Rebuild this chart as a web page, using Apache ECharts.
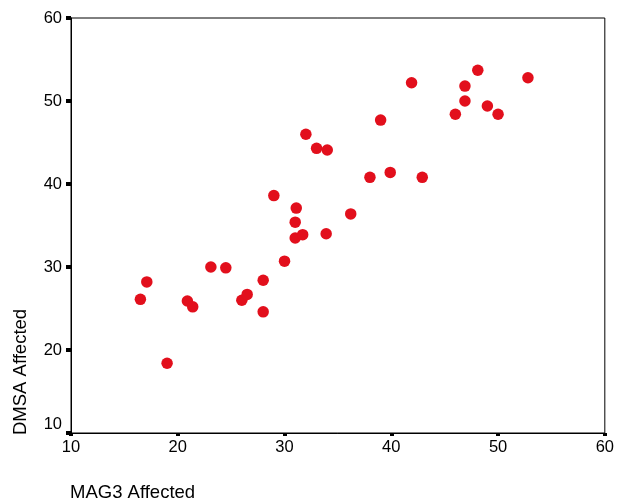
<!DOCTYPE html>
<html>
<head>
<meta charset="utf-8">
<script src="https://cdn.jsdelivr.net/npm/echarts@6/dist/echarts.min.js"></script>
<style>
html,body{margin:0;padding:0;background:#fff;}
#chart{width:617px;height:503px;}
</style>
</head>
<body>
<div id="chart"></div>
<script>
// MAG3 Affected (x) values
var mag3 = [16.5, 17.1, 19.0, 20.9, 21.4, 23.1, 24.5, 26.0, 26.5, 28.0, 28.0, 29.0, 30.0, 31.0, 31.1, 31.0, 31.7, 32.0, 33.0, 34.0, 33.9, 36.2, 38.0, 39.0, 39.9, 41.9, 42.9, 46.0, 46.9, 46.9, 48.1, 49.0, 50.0, 52.8];
// DMSA Affected (y) values
var dmsa = [26.1, 28.2, 18.4, 25.9, 25.2, 30.0, 29.9, 26.0, 26.7, 28.4, 24.6, 38.6, 30.7, 35.4, 37.1, 33.5, 33.9, 46.0, 44.3, 44.1, 34.0, 36.4, 40.8, 47.7, 41.4, 52.2, 40.8, 48.4, 51.8, 50.0, 53.7, 49.4, 48.4, 52.8];
var xTicks = [10, 20, 30, 40, 50, 60];
var yTicks = [10, 20, 30, 40, 50, 60];
var xTitle = 'MAG3 Affected';
var yTitle = 'DMSA Affected';

var points = mag3.map(function (x, i) { return [x, dmsa[i]]; });
var FONT = '"Liberation Sans", Arial, sans-serif';

var chart = echarts.init(document.getElementById('chart'), null, {renderer: 'canvas'});
chart.setOption({
  animation: false,
  backgroundColor: '#ffffff',
  grid: {
    left: 71, right: 10, top: 18, bottom: 70,
    show: true, borderColor: '#000', borderWidth: 1, backgroundColor: 'transparent'
  },
  xAxis: {
    type: 'value',
    min: xTicks[0], max: xTicks[xTicks.length - 1], interval: 10,
    axisLine: {show: true, lineStyle: {color: '#000', width: 1}},
    axisTick: {show: true, inside: false, length: 3, lineStyle: {color: '#000', width: 4}},
    splitLine: {show: false},
    axisLabel: {color: '#000', fontSize: 16.5, fontFamily: FONT, margin: 6}
  },
  yAxis: {
    type: 'value',
    min: yTicks[0], max: yTicks[yTicks.length - 1], interval: 10,
    axisLine: {show: true, lineStyle: {color: '#000', width: 1}},
    axisTick: {show: true, inside: false, length: 5, lineStyle: {color: '#000', width: 4}},
    splitLine: {show: false},
    axisLabel: {
      color: '#000', fontSize: 16.5, fontFamily: FONT, margin: 9,
      formatter: function (v) { return v === yTicks[0] ? '{lo|' + v + '}' : String(v); },
      rich: {lo: {color: '#000', fontSize: 16.5, fontFamily: FONT, padding: [0, 0, 18, 0]}}
    }
  },
  graphic: [
    {type: 'text', left: 70, top: 483, style: {text: xTitle, fill: '#000', font: '18.5px ' + FONT}},
    {type: 'text', x: 11, y: 435, rotation: Math.PI / 2, style: {text: yTitle, fill: '#000', font: '18.5px ' + FONT}}
  ],
  series: [{
    type: 'scatter',
    data: points,
    symbol: 'circle',
    symbolSize: 11.5,
    itemStyle: {color: '#e20f1c', opacity: 1}
  }]
});
</script>
</body>
</html>
